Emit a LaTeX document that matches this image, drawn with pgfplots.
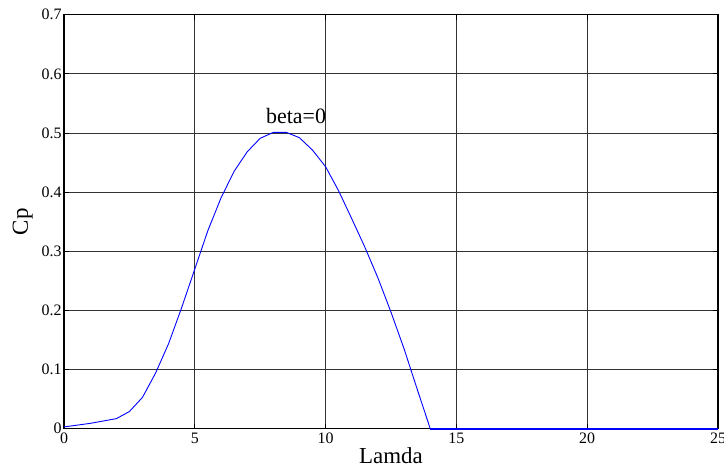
\documentclass[border=0pt]{standalone}
\usepackage{pgfplots}
\pgfplotsset{compat=1.18}
\usepackage{fontspec}
\setmainfont{Liberation Serif}

\begin{document}
\begin{tikzpicture}
\begin{axis}[
    name=ax,
    scale only axis,
    width=654bp, height=414bp,
    xmin=0, xmax=25, ymin=0, ymax=0.7,
    xtick={0,5,...,25}, ytick={0,0.1,...,0.7},
    yticklabels={0,0.1,0.2,0.3,0.4,0.5,0.6,0.7},
    grid=major,
    major grid style={black!80, line width=0.8bp},
    axis line style={black, line width=1.2bp},
    tick style={black, line width=0.8bp},
    tick align=inside,
    major tick length=5bp,
    tick label style={font=\rmfamily\fontsize{16}{18}\selectfont},
    /pgf/number format/assume math mode=true,
    xticklabel style={yshift=-1bp},
    yticklabel style={xshift=1bp},
    xlabel={\fontsize{23}{26}\selectfont Lamda},
    ylabel={\fontsize{23}{26}\selectfont Cp},
    xlabel style={yshift=3bp},
    ylabel style={yshift=2bp},
    clip=false,
]
\addplot[blue, line width=0.9bp] coordinates {
 (0,0.003) (0.5,0.006) (1,0.009) (1.5,0.013) (2,0.017) (2.5,0.029)
 (3,0.053) (3.5,0.094) (4,0.144) (4.5,0.205) (5,0.270) (5.5,0.335)
 (6,0.390) (6.5,0.435) (7,0.468) (7.5,0.491) (8,0.501) (8.5,0.501)
 (9,0.492) (9.5,0.471) (10,0.443) (10.5,0.402) (11,0.355) (11.5,0.307)
 (12,0.255) (12.5,0.197) (13,0.135) (13.5,0.067) (14,0)
};
\addplot[blue, line width=1.6bp] coordinates {(14,0) (25,0)};
\node[font=\fontsize{22}{24}\selectfont] at (axis cs:8.87,0.528) {beta=0};
\end{axis}
\pgfresetboundingbox
\path ([shift={(-64bp,-44.3bp)}]ax.south west) rectangle ([shift={(6bp,14.7bp)}]ax.north east);
\end{tikzpicture}
\end{document}
